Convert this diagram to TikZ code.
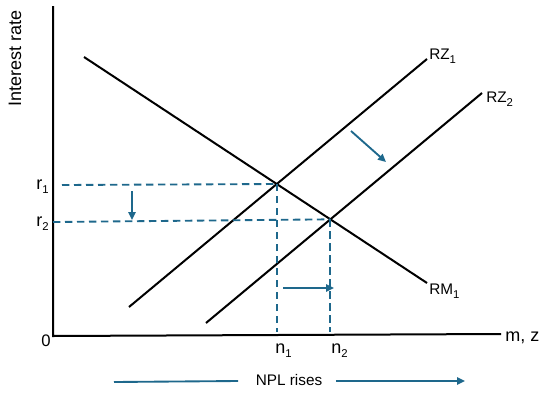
\documentclass[tikz,border=0pt]{standalone}
\usepackage{fontspec}
\setmainfont{Liberation Sans}
\usetikzlibrary{arrows.meta}
\definecolor{tealblue}{RGB}{30,104,140}
\newcommand{\subdig}[1]{\raisebox{-0.5ex}{\fontsize{8.5}{9}\selectfont #1}}
\begin{document}
\begin{tikzpicture}[x=0.75pt,y=-0.75pt,
  curve/.style={line width=1.5pt,black},
  guide/.style={line width=1.4pt,tealblue,dash pattern=on 5.5pt off 3.5pt},
  shiftarrow/.style={line width=1.4pt,tealblue,-{Triangle[length=6pt,width=5.5pt]}},
  plainline/.style={line width=1.4pt,tealblue},
  lbl/.style={font=\fontsize{11.5}{13}\selectfont,inner sep=0pt},
  biglbl/.style={font=\fontsize{13.5}{15}\selectfont,inner sep=0pt}]
\useasboundingbox (0,0) rectangle (550,397);
% axes
\coordinate (yt) at (53,6);
\coordinate (o) at (53,336);
\coordinate (xr) at (501,334);
\draw[curve] (yt) -- (o) -- (xr);
% curves
\coordinate (rma) at (84,57);
\coordinate (rmb) at (427,283);
\coordinate (zaa) at (129,307);
\coordinate (zab) at (427,59);
\coordinate (zba) at (206,323);
\coordinate (zbb) at (482,93);
\draw[curve] (rma) -- (rmb);
\draw[curve] (zaa) -- (zab);
\draw[curve] (zba) -- (zbb);
\coordinate (E1) at (intersection of rma--rmb and zaa--zab);
\coordinate (E2) at (intersection of rma--rmb and zba--zbb);
% guides
\coordinate (r1s) at (62,185);
\coordinate (r2s) at (53,222);
\coordinate (n1b) at (E1 |- 0,332);
\coordinate (n2b) at (E2 |- 0,332);
\draw[guide] (r1s) -- (E1);
\draw[guide] (r2s) -- (E2);
\draw[guide] (E1) -- (n1b);
\draw[guide] (E2) -- (n2b);
% shift arrows
\coordinate (da) at (132,191);
\coordinate (db) at (132,220);
\draw[shiftarrow] (da) -- (db);
\coordinate (ha) at (283,288);
\coordinate (hb) at (334,288);
\draw[shiftarrow] (ha) -- (hb);
\coordinate (sa) at (351,131);
\coordinate (sb) at (386,162);
\draw[shiftarrow] (sa) -- (sb);
% NPL rises
\node[lbl] (npl) at (289,380) {NPL rises};
\coordinate (la) at (114,382);
\draw[plainline] (la) -- ([xshift=-13pt]npl.west |- 0,381);
\coordinate (lb) at (465,381);
\draw[shiftarrow] ([xshift=10pt]npl.east |- 0,381) -- (lb);
% labels
\node[biglbl,rotate=90] (ylab) at (15,58) {Interest rate};
\node[biglbl,anchor=base east] (r1) at (49,189) {r\subdig{1}};
\node[biglbl,anchor=base east] (r2) at (49,226) {r\subdig{2}};
\node[font=\fontsize{12.5}{14}\selectfont,inner sep=0pt] (zero) at (46,341) {0};
\node[biglbl,anchor=base west] (n1) at (275,353) {n\subdig{1}};
\node[biglbl,anchor=base west] (n2) at (331,353) {n\subdig{2}};
\node[biglbl,anchor=base west] (mz) at (505,341) {m, z};
\node[lbl,anchor=base west] (rz1) at (429,59) {RZ\subdig{1}};
\node[lbl,anchor=base west] (rz2) at (486,102) {RZ\subdig{2}};
\node[lbl,anchor=base west] (rm1) at (429,294) {RM\subdig{1}};
\end{tikzpicture}
\end{document}
